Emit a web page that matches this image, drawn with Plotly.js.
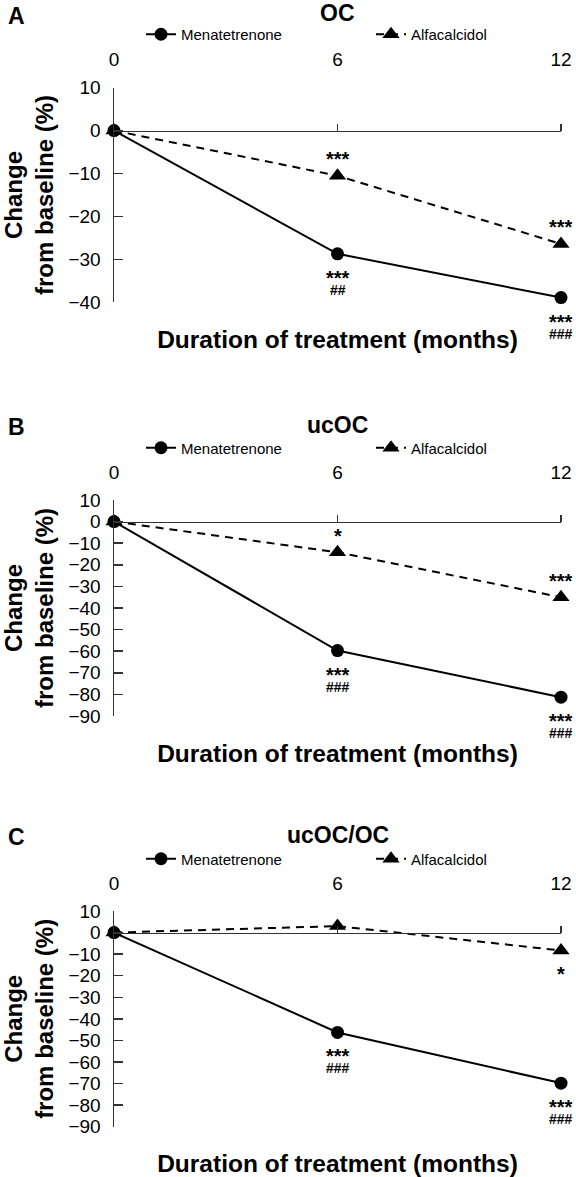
<!DOCTYPE html>
<html><head><meta charset="utf-8">
<script src="https://cdn.plot.ly/plotly-3.0.1.min.js"></script>
<style>html,body{margin:0;padding:0;background:#fff;} #chart{width:576px;height:1177px;}</style>
</head><body><div id="chart"></div>
<script>
// ---- data ----
const months = [0, 6, 12];
const monthTickLabels = ['0', '6', '12'];
const seriesNames = ['Menatetrenone', 'Alfacalcidol'];
const panelLetters = ['A', 'B', 'C'];
const panelTitles = ['OC', 'ucOC', 'ucOC/OC'];
const xAxisTitle = 'Duration of treatment (months)';
const yAxisTitle = 'Change<br>from baseline (%)';

const ocMena = [0, -28.7, -38.9];
const ocAlfa = [0, -10.5, -26.4];
const ucocMena = [0, -59.7, -81.3];
const ucocAlfa = [0, -14.2, -35.0];
const ratioMena = [0, -46.3, -69.8];
const ratioAlfa = [0, 3.0, -8.3];

const ocMenaStars = ['', '***', '***'];
const ocMenaHash = ['', '##', '###'];
const ocAlfaStars = ['', '***', '***'];
const ucocMenaStars = ['', '***', '***'];
const ucocMenaHash = ['', '###', '###'];
const ucocAlfaStars = ['', '*', '***'];
const ratioMenaStars = ['', '***', '***'];
const ratioMenaHash = ['', '###', '###'];
const ratioAlfaStars = ['', '', '*'];

// ---- layout helpers (pixel geometry) ----
const W = 576, H = 1177;
const FONT = 'Liberation Sans, Arial, Helvetica, sans-serif';
const py = p => 1 - p / H;
const xDom = [114 / W, 561 / W];

const panels = [
  {mena: ocMena, alfa: ocAlfa, menaStars: ocMenaStars, menaHash: ocMenaHash, alfaStars: ocAlfaStars,
   alfaSide: 1, yr: [-40, 10], top: 87.7, bot: 302.3, titleY: 13.5, legendY: 34.5, tickY: 58},
  {mena: ucocMena, alfa: ucocAlfa, menaStars: ucocMenaStars, menaHash: ucocMenaHash, alfaStars: ucocAlfaStars,
   alfaSide: 1, yr: [-90, 10], top: 500, bot: 716, titleY: 425, legendY: 448, tickY: 471},
  {mena: ratioMena, alfa: ratioAlfa, menaStars: ratioMenaStars, menaHash: ratioMenaHash, alfaStars: ratioAlfaStars,
   alfaSide: -1, yr: [-90, 10], top: 911, bot: 1126.7, titleY: 835, legendY: 859, tickY: 881.7}
];

const traces = [];
const layout = {
  width: W, height: H,
  margin: {l: 0, r: 0, t: 0, b: 0, autoexpand: false},
  paper_bgcolor: '#fff', plot_bgcolor: 'rgba(0,0,0,0)',
  font: {family: FONT, color: '#000'},
  showlegend: true,
  annotations: []
};

panels.forEach((p, i) => {
  const k = i + 1;
  const xa = k === 1 ? 'x' : 'x' + k;
  const ya = k === 1 ? 'y' : 'y' + k;
  const xkey = k === 1 ? 'xaxis' : 'xaxis' + k;
  const ykey = k === 1 ? 'yaxis' : 'yaxis' + k;
  const legKey = k === 1 ? 'legend' : 'legend' + k;
  const yDom = [py(p.bot), py(p.top)];
  const labX = 'x' + (k + 3), zeroX = 'x' + (k + 6);

  traces.push({
    x: months, y: p.mena, xaxis: xa, yaxis: ya, name: seriesNames[0], legend: legKey,
    mode: 'lines+markers', cliponaxis: false,
    line: {color: '#000', width: 2},
    marker: {symbol: 'circle', size: 13, color: '#000'}
  });
  traces.push({
    x: months, y: p.alfa, xaxis: xa, yaxis: ya, name: seriesNames[1], legend: legKey,
    mode: 'lines+markers', cliponaxis: false,
    line: {color: '#000', width: 2, dash: '8px,6px'},
    marker: {symbol: 'triangle-up', size: 15, color: '#000'}
  });
  // carrier traces so the overlay axes (top labels, zero line) get drawn
  [labX, zeroX].forEach(ax => traces.push({
    x: months, y: p.mena, xaxis: ax, yaxis: ya, mode: 'none',
    showlegend: false, hoverinfo: 'skip'
  }));

  layout[xkey] = {
    domain: xDom, range: [months[0], months[months.length - 1]], anchor: ya,
    showline: false, showgrid: false, zeroline: false, ticks: '', showticklabels: false,
    title: {text: '<b>' + xAxisTitle + '</b>', font: {size: 24.5, family: FONT}, standoff: 28}
  };
  layout['xaxis' + (k + 3)] = {
    overlaying: xa, anchor: 'free', position: py(p.tickY + 12), side: 'top',
    range: [months[0], months[months.length - 1]],
    tickvals: months, ticktext: monthTickLabels, ticks: '',
    showline: false, showgrid: false, zeroline: false,
    tickfont: {size: 19, family: FONT, color: '#000'}
  };
  const zeroFrac = (0 - p.yr[0]) / (p.yr[1] - p.yr[0]);
  layout['xaxis' + (k + 6)] = {
    overlaying: xa, anchor: 'free', position: yDom[0] + zeroFrac * (yDom[1] - yDom[0]), side: 'top',
    range: [months[0], months[months.length - 1]],
    tickvals: months.slice(1), ticks: 'outside', ticklen: 7, tickwidth: 1.5, tickcolor: '#333',
    showline: true, linecolor: '#333', linewidth: 1.5,
    showgrid: false, zeroline: false, showticklabels: false
  };
  layout[ykey] = {
    domain: yDom, range: p.yr, anchor: xa,
    showline: true, linecolor: '#333', linewidth: 1.5,
    ticks: 'inside', ticklen: 9, tickwidth: 1.5, tickcolor: '#333',
    tick0: 0, dtick: 10, ticklabelstandoff: 8,
    showgrid: false, zeroline: false,
    tickfont: {size: 19, family: FONT, color: '#000'},
    title: {text: '<b>' + yAxisTitle + '</b>', font: {size: 24, family: FONT}, standoff: 10}
  };
  layout[legKey] = {
    orientation: 'h', x: 141 / W, xanchor: 'left', y: py(p.legendY), yanchor: 'middle',
    font: {size: 15, family: FONT, color: '#000'}, bgcolor: 'rgba(0,0,0,0)',
    entrywidth: 185, entrywidthmode: 'pixels', itemclick: false, itemdoubleclick: false
  };

  layout.annotations.push({
    xref: 'paper', yref: 'paper', x: (xDom[0] + xDom[1]) / 2, y: py(p.titleY),
    xanchor: 'center', yanchor: 'middle', showarrow: false,
    text: '<b>' + panelTitles[i] + '</b>', font: {size: 23, family: FONT}
  });
  layout.annotations.push({
    xref: 'paper', yref: 'paper', x: 6 / W, y: py(p.titleY + 2),
    xanchor: 'left', yanchor: 'middle', showarrow: false,
    text: '<b>' + panelLetters[i] + '</b>', font: {size: 23, family: FONT}
  });

  months.forEach((m, j) => {
    if (p.menaStars[j]) {
      let txt = '<span style="font-size:20px"><b>' + p.menaStars[j] + '</b></span>';
      if (p.menaHash[j]) txt += '<br><span style="font-size:14px"><b>' + p.menaHash[j] + '</b></span>';
      layout.annotations.push({
        x: m, y: p.mena[j], xref: xa, yref: ya, showarrow: false, xanchor: 'center', yanchor: 'top',
        yshift: -11, text: txt, font: {size: 7.5, family: FONT}
      });
    }
    if (p.alfaStars[j]) layout.annotations.push({
      x: m, y: p.alfa[j], xref: xa, yref: ya, showarrow: false, xanchor: 'center', yanchor: 'middle',
      height: 13, valign: 'top', yshift: p.alfaSide > 0 ? 21 : -19,
      text: '<b>' + p.alfaStars[j] + '</b>', font: {size: 20, family: FONT}
    });
  });
});

Plotly.newPlot('chart', traces, layout, {staticPlot: true, displayModeBar: false});
</script>
</body></html>
